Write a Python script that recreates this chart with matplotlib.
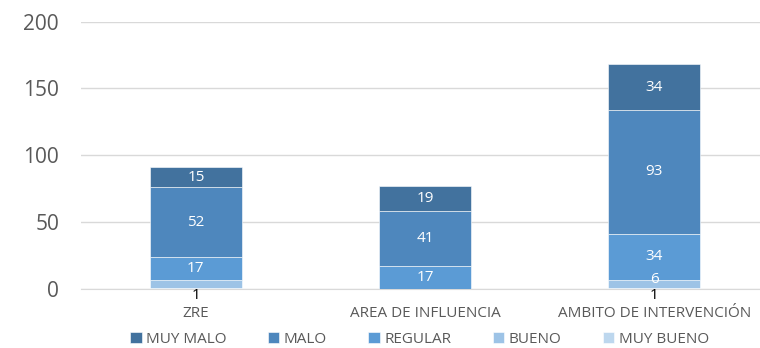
import matplotlib.pyplot as plt
import numpy as np

# Estado por zona (conteos apilados)
zonas = ['ZRE', 'AREA DE INFLUENCIA', 'AMBITO DE INTERVENCIÓN']
muy_bueno = [1, 0, 1]
bueno = [6, 0, 6]
regular = [17, 17, 34]
malo = [52, 41, 93]
muy_malo = [15, 19, 34]

# etiquetas visibles por serie (None = sin etiqueta)
etq_bueno = [None, None, 6]

plt.rcParams['font.family'] = ['Open Sans', 'DejaVu Sans']

fig = plt.figure(figsize=(7.6, 3.48), dpi=100)
ax = fig.add_axes([0.107, 0.1695, 0.9046, 0.7687])

x = np.arange(len(zonas))
w = 0.40
series = [
    ('MUY BUENO', muy_bueno, '#BDD7EE'),
    ('BUENO', bueno, '#9DC3E6'),
    ('REGULAR', regular, '#5B9BD5'),
    ('MALO', malo, '#4E87BD'),
    ('MUY MALO', muy_malo, '#42729E'),
]

base = np.zeros(len(zonas))
barras = {}
for nombre, vals, color in series:
    vals = np.array(vals, dtype=float)
    b = ax.bar(x, vals, w, bottom=base, color=color, edgecolor='#FFFFFF',
               linewidth=0.4, label=nombre, zorder=3)
    barras[nombre] = (b, vals, base.copy())
    base = base + vals

# etiquetas de datos
for nombre in ['REGULAR', 'MALO', 'MUY MALO']:
    b, vals, bot = barras[nombre]
    for i, v in enumerate(vals):
        if v > 0:
            ax.text(x[i], bot[i] + v / 2, f'{int(v)}', ha='center', va='center',
                    color='white', fontsize=11, zorder=4)

b, vals, bot = barras['BUENO']
for i, v in enumerate(vals):
    if etq_bueno[i] is not None:
        ax.annotate(f'{etq_bueno[i]}', (x[i], bot[i] + v / 2), xytext=(0, 3),
                    textcoords='offset points', ha='center', va='center',
                    color='white', fontsize=11, zorder=4)

b, vals, bot = barras['MUY BUENO']
for i, v in enumerate(vals):
    if v > 0:
        ax.annotate(f'{int(v)}', (x[i], bot[i] + v / 2), xytext=(0, -5.5),
                    textcoords='offset points', ha='center', va='center',
                    color='black', fontsize=11, zorder=4)

ax.set_ylim(0, 200)
ax.set_yticks([0, 50, 100, 150, 200])
ax.set_xlim(-0.5, 2.5)
ax.set_xticks(x)
ax.set_xticklabels(zonas)
ax.yaxis.grid(True, color='#D9D9D9', linewidth=1, zorder=0)
ax.set_axisbelow(True)
for s in ['top', 'right', 'left']:
    ax.spines[s].set_visible(False)
ax.spines['bottom'].set_color('#D9D9D9')
ax.tick_params(axis='y', length=0, labelsize=15, labelcolor='#595959', pad=16)
ax.tick_params(axis='x', length=0, labelsize=11, labelcolor='#595959', pad=12)

handles, labels = ax.get_legend_handles_labels()
orden = ['MUY MALO', 'MALO', 'REGULAR', 'BUENO', 'MUY BUENO']
h = [handles[labels.index(n)] for n in orden]
fig.legend(h, orden, loc='center', bbox_to_anchor=(0.552, 0.025), ncol=5,
           frameon=False, fontsize=11, labelcolor='#595959',
           handlelength=0.75, handleheight=0.75, handletextpad=0.3,
           columnspacing=2.7)

fig.savefig('out.png', dpi=100)
